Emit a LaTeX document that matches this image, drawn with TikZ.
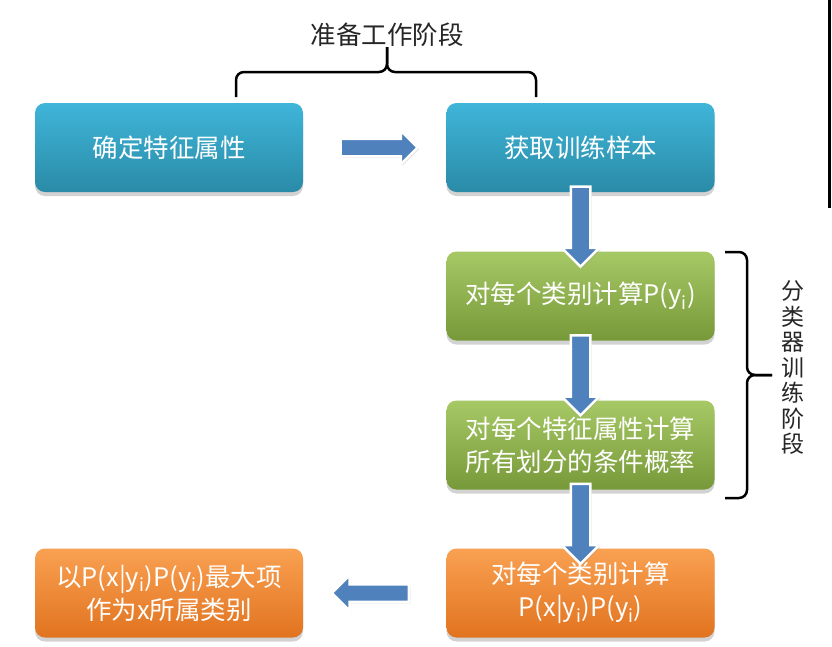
\documentclass[tikz,border=0pt]{standalone}
\usepackage{fontspec}
\setmainfont{Noto Sans CJK SC}
\usetikzlibrary{shapes.arrows,shadows,calc}

\definecolor{bluetop}{HTML}{3FB5D9}
\definecolor{bluebot}{HTML}{2A8BA7}
\definecolor{greentop}{HTML}{A6C865}
\definecolor{greenbot}{HTML}{789939}
\definecolor{orangetop}{HTML}{F9A152}
\definecolor{orangebot}{HTML}{E1731F}
\definecolor{arrowblue}{HTML}{4F81BD}

\begin{document}
\begin{tikzpicture}[x=1pt,y=-1pt,
  box/.style={rounded corners=10pt, minimum width=268pt, minimum height=89pt,
    inner sep=0pt, text=white, align=center, font=\fontsize{25.5}{33}\selectfont,
    drop shadow={shadow xshift=0pt, shadow yshift=-4pt, opacity=0.35}},
  bluebox/.style={box, top color=bluetop, bottom color=bluebot},
  greenbox/.style={box, top color=greentop, bottom color=greenbot},
  orangebox/.style={box, top color=orangetop, bottom color=orangebot},
  blockarrow/.style={single arrow, fill=arrowblue, draw=white, line width=2.5pt,
    minimum height=80pt, inner sep=8.5pt, single arrow head extend=9pt,
    drop shadow={shadow xshift=1.5pt, shadow yshift=-1.5pt, opacity=0.25}},
  bracket/.style={line width=2.5pt, rounded corners=8pt},
  stagetext/.style={text=black!85, align=center}]
\path[use as bounding box, fill=white] (0,0) rectangle (832,646);

% Boxes
\node[bluebox] (b1) at (169,147.5) {确定特征属性};
\node[bluebox] (b2) at (580.5,147.5) {获取训练样本};
\node[greenbox] (b3) at (580.5,296) {对每个类别计算P(y\textsubscript{i})};
\node[greenbox] (b4) at (580.5,445) {对每个特征属性计算\\所有划分的条件概率};
\node[orangebox] (b5) at (580.5,593) {对每个类别计算\\P(x|y\textsubscript{i})P(y\textsubscript{i})};
\node[orangebox] (b6) at (169,593) {以P(x|y\textsubscript{i})P(y\textsubscript{i})最大项\\作为x所属类别};

% Block arrows between boxes
\node[blockarrow, minimum height=77pt, inner sep=7.5pt, single arrow head extend=8pt] (a12) at ($(b1.east)!0.5!(b2.west)$) {};
\node[blockarrow, shape border rotate=270] (a23) at ($(b2.south)!0.5!(b3.north)$) {};
\node[blockarrow, shape border rotate=270] (a34) at ($(b3.south)!0.5!(b4.north)$) {};
\node[blockarrow, shape border rotate=270] (a45) at ($(b4.south)!0.5!(b5.north)$) {};
\node[blockarrow, minimum height=77pt, inner sep=7.5pt, single arrow head extend=9pt, shape border rotate=180] (a56) at ($(b5.west)!0.5!(b6.east)$) {};

% Stage labels and brackets
\node[stagetext, font=\fontsize{25.5}{29}\selectfont] (stage1) at (387,35) {准备工作阶段};
\draw[bracket] (236,97) -- (236,72) -- (387,72) -- (387,47);
\draw[bracket] (536,97) -- (536,72) -- (387,72) -- (387,47);

\node[stagetext, font=\fontsize{23}{25.5}\selectfont] (stage2) at (793,368) {分\\类\\器\\训\\练\\阶\\段};
\draw[bracket] (725,252) -- (747,252) -- (747,375) -- (772,375);
\draw[bracket] (725,498) -- (747,498) -- (747,375) -- (772,375);

% Edge line
\draw[line width=3pt] (829.5,0) -- (829.5,208);
\end{tikzpicture}
\end{document}
